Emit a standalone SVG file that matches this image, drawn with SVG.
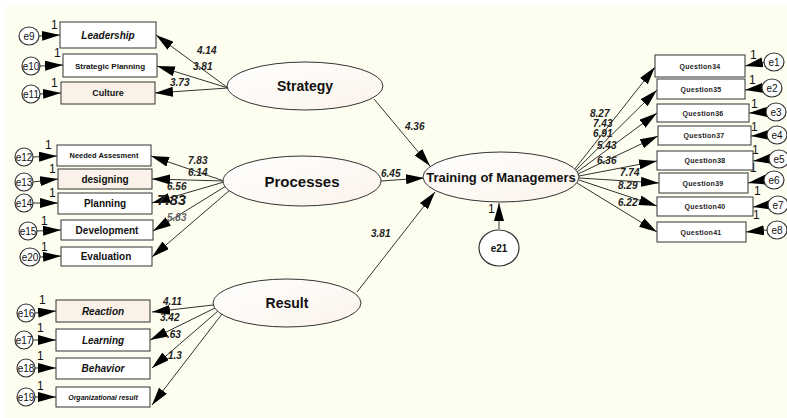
<svg xmlns="http://www.w3.org/2000/svg" width="787" height="418" viewBox="0 0 787 418">
<defs>
<marker id="ah" viewBox="0 0 18 10" refX="18" refY="5" markerWidth="18" markerHeight="10" markerUnits="userSpaceOnUse" orient="auto"><path d="M0,0L18,5L0,10z" fill="#000"/></marker>
<linearGradient id="eg" x1="0" y1="0" x2="1" y2="1"><stop offset="0" stop-color="#ffffff"/><stop offset="1" stop-color="#fbf3ea"/></linearGradient>
<style>
.bx{fill:#fff;stroke:#333;stroke-width:1}
.bxp{fill:#faf2e8;stroke:#333;stroke-width:1}
.el{fill:url(#eg);stroke:#333;stroke-width:1}
.ec{fill:#fff;stroke:#333;stroke-width:1.2}
.ln{stroke:#333;stroke-width:1;fill:none;marker-end:url(#ah)}
.t{font-family:"Liberation Sans",Arial,sans-serif;fill:#111;text-anchor:middle}
.lb{font-family:"Liberation Sans",Arial,sans-serif;font-style:italic;font-weight:bold;font-size:10px;fill:#222}
.one{font-family:"Liberation Sans",Arial,sans-serif;font-size:12px;fill:#111}
.et{font-family:"Liberation Sans",Arial,sans-serif;font-size:10px;fill:#111;text-anchor:middle}
.big{font-family:"Liberation Sans",Arial,sans-serif;font-weight:bold;fill:#111;text-anchor:middle}
.q{font-family:"Liberation Sans",Arial,sans-serif;font-size:7px;font-weight:bold;fill:#222;text-anchor:middle;letter-spacing:0.3px}
</style>
</defs>
<rect x="0" y="0" width="787" height="418" fill="#ffffff"/>
<rect x="5" y="5" width="782" height="413" fill="#fdfdf0"/>

<g id="connectors">
<line class="ln" x1="228" y1="88" x2="156" y2="35"/>
<line class="ln" x1="228" y1="88" x2="157" y2="66"/>
<line class="ln" x1="228" y1="88" x2="155" y2="93"/>
<line class="ln" x1="224" y1="181" x2="151" y2="156"/>
<line class="ln" x1="224" y1="181" x2="152" y2="179"/>
<line class="ln" x1="224" y1="182" x2="152" y2="203"/>
<line class="ln" x1="226" y1="186" x2="153" y2="231"/>
<line class="ln" x1="230" y1="190" x2="152" y2="257"/>
<line class="ln" x1="213" y1="305" x2="152" y2="312"/>
<line class="ln" x1="215" y1="308" x2="150" y2="340"/>
<line class="ln" x1="218" y1="311" x2="152" y2="368"/>
<line class="ln" x1="222" y1="314" x2="152" y2="405"/>
<line class="ln" x1="374" y1="99" x2="430" y2="166"/>
<line class="ln" x1="381" y1="181" x2="424" y2="178"/>
<line class="ln" x1="357" y1="292" x2="435" y2="192"/>
<line class="ln" x1="499" y1="229" x2="499" y2="203"/>
<line class="ln" x1="574" y1="170" x2="655" y2="67"/>
<line class="ln" x1="575" y1="171" x2="657" y2="90"/>
<line class="ln" x1="577" y1="172" x2="657" y2="113"/>
<line class="ln" x1="578" y1="174" x2="658" y2="136"/>
<line class="ln" x1="579" y1="176" x2="657" y2="161"/>
<line class="ln" x1="579" y1="178" x2="659" y2="183"/>
<line class="ln" x1="579" y1="180" x2="657" y2="206"/>
<line class="ln" x1="577" y1="183" x2="657" y2="232"/>
<line class="ln" x1="39" y1="36" x2="60" y2="35"/>
<line class="ln" x1="40" y1="66" x2="63" y2="65"/>
<line class="ln" x1="40" y1="94" x2="61" y2="93"/>
<line class="ln" x1="33" y1="157" x2="57" y2="156"/>
<line class="ln" x1="33" y1="182" x2="58" y2="179"/>
<line class="ln" x1="33" y1="203" x2="58" y2="203"/>
<line class="ln" x1="37" y1="231" x2="61" y2="230"/>
<line class="ln" x1="40" y1="257" x2="61" y2="256"/>
<line class="ln" x1="35" y1="313" x2="56" y2="311"/>
<line class="ln" x1="33" y1="340" x2="56" y2="340"/>
<line class="ln" x1="35" y1="368" x2="56" y2="368"/>
<line class="ln" x1="35" y1="397" x2="56" y2="397"/>
<line class="ln" x1="764" y1="62" x2="745" y2="66"/>
<line class="ln" x1="762" y1="88" x2="745" y2="90"/>
<line class="ln" x1="766" y1="112" x2="749" y2="113"/>
<line class="ln" x1="767" y1="135" x2="751" y2="136"/>
<line class="ln" x1="769" y1="159" x2="753" y2="161"/>
<line class="ln" x1="764" y1="180" x2="748" y2="183"/>
<line class="ln" x1="768" y1="205" x2="753" y2="207"/>
<line class="ln" x1="767" y1="230" x2="746" y2="232"/>
</g>

<g id="labels">
<text class="lb" x="197" y="54">4.14</text>
<text class="lb" x="193" y="70">3.81</text>
<text class="lb" x="170" y="86">3.73</text>
<text class="lb" x="188" y="164">7.83</text>
<text class="lb" x="188" y="176">6.14</text>
<text class="lb" x="167" y="190">6.56</text>
<text class="lb" x="157" y="205" style="font-size:15px">7.83</text>
<text class="lb" x="167" y="221" style="fill:#666">5.83</text>
<text class="lb" x="163" y="305">4.11</text>
<text class="lb" x="160" y="321">3.42</text>
<text class="lb" x="167" y="338">.63</text>
<text class="lb" x="168" y="359">1.3</text>
<text class="lb" x="405" y="130">4.36</text>
<text class="lb" x="381" y="177">6.45</text>
<text class="lb" x="371" y="237">3.81</text>
<text class="lb" x="590" y="117">8.27</text>
<text class="lb" x="593" y="127">7.43</text>
<text class="lb" x="593" y="137">6.91</text>
<text class="lb" x="597" y="149">5.43</text>
<text class="lb" x="597" y="164">6.36</text>
<text class="lb" x="620" y="176">7.74</text>
<text class="lb" x="618" y="189">8.29</text>
<text class="lb" x="618" y="206">6.22</text>
<text class="one" x="51" y="29">1</text>
<text class="one" x="54" y="57">1</text>
<text class="one" x="51" y="87">1</text>
<text class="one" x="45" y="149">1</text>
<text class="one" x="49" y="173">1</text>
<text class="one" x="49" y="197">1</text>
<text class="one" x="41" y="225">1</text>
<text class="one" x="41" y="251">1</text>
<text class="one" x="39" y="304">1</text>
<text class="one" x="37" y="332">1</text>
<text class="one" x="37" y="360">1</text>
<text class="one" x="37" y="390">1</text>
<text class="one" x="488" y="213">1</text>
<text class="one" x="750" y="59">1</text>
<text class="one" x="749" y="84">1</text>
<text class="one" x="751" y="108">1</text>
<text class="one" x="751" y="131">1</text>
<text class="one" x="752" y="154">1</text>
<text class="one" x="750" y="172">1</text>
<text class="one" x="754" y="195">1</text>
<text class="one" x="753" y="219">1</text>
</g>

<g id="Strategy"><ellipse class="el" cx="305" cy="86" rx="78" ry="24"/><text class="big" x="305" y="91" font-size="14">Strategy</text></g>
<g id="Processes"><ellipse class="el" cx="302" cy="181" rx="79" ry="25"/><text class="big" x="302" y="187" font-size="15">Processes</text></g>
<g id="Result"><ellipse class="el" cx="287" cy="303" rx="74" ry="24"/><text class="big" x="287" y="308" font-size="14">Result</text></g>
<g id="Training"><ellipse class="el" cx="501" cy="177" rx="78" ry="25"/><text class="big" x="501" y="182" font-size="13">Training of Managemers</text></g>
<g id="e21"><ellipse class="ec" cx="499" cy="248" rx="20" ry="18"/><text class="et" x="499" y="252" font-weight="bold" font-size="11">e21</text></g>

<g id="Leadership"><rect class="bx" x="60" y="22" width="96" height="26"/><text class="t" x="108" y="39" font-size="10" font-style="italic" font-weight="bold">Leadership</text></g>
<g id="StrategicPlanning"><rect class="bx" x="63" y="54" width="94" height="23"/><text class="t" x="110" y="69" font-size="8" font-weight="bold">Strategic Planning</text></g>
<g id="Culture"><rect class="bxp" x="61" y="82" width="94" height="22"/><text class="t" x="108" y="96" font-size="9" font-weight="bold">Culture</text></g>
<g id="NeededAssesment"><rect class="bx" x="57" y="145" width="94" height="21"/><text class="t" x="104" y="158" font-size="7.5" font-weight="bold">Needed Assesment</text></g>
<g id="designing"><rect class="bxp" x="58" y="169" width="94" height="20"/><text class="t" x="105" y="183" font-size="10" font-weight="bold">designing</text></g>
<g id="Planning"><rect class="bx" x="58" y="193" width="94" height="21"/><text class="t" x="105" y="207" font-size="10" font-weight="bold">Planning</text></g>
<g id="Development"><rect class="bx" x="61" y="220" width="92" height="20"/><text class="t" x="107" y="234" font-size="10" font-weight="bold">Development</text></g>
<g id="Evaluation"><rect class="bx" x="61" y="247" width="91" height="19"/><text class="t" x="106" y="260" font-size="10" font-weight="bold">Evaluation</text></g>
<g id="Reaction"><rect class="bxp" x="56" y="300" width="94" height="22"/><text class="t" x="103" y="315" font-size="10" font-style="italic" font-weight="bold">Reaction</text></g>
<g id="Learning"><rect class="bx" x="56" y="329" width="94" height="22"/><text class="t" x="103" y="344" font-size="10" font-style="italic" font-weight="bold">Learning</text></g>
<g id="Behavior"><rect class="bx" x="56" y="358" width="94" height="21"/><text class="t" x="103" y="372" font-size="10" font-style="italic" font-weight="bold">Behavior</text></g>
<g id="OrganizationalResult"><rect class="bx" x="56" y="387" width="94" height="20"/><text class="t" x="103" y="400" font-size="7" font-style="italic" font-weight="bold">Organizational result</text></g>

<g id="Q34"><rect class="bx" x="655" y="55" width="90" height="22"/><text class="q" x="700" y="69">Question34</text></g>
<g id="Q35"><rect class="bx" x="657" y="79" width="88" height="20"/><text class="q" x="701" y="92">Question35</text></g>
<g id="Q36"><rect class="bx" x="657" y="104" width="92" height="18"/><text class="q" x="703" y="116">Question36</text></g>
<g id="Q37"><rect class="bx" x="658" y="126" width="93" height="19"/><text class="q" x="704" y="138">Question37</text></g>
<g id="Q38"><rect class="bx" x="657" y="151" width="96" height="19"/><text class="q" x="705" y="163">Question38</text></g>
<g id="Q39"><rect class="bx" x="659" y="173" width="89" height="20"/><text class="q" x="703" y="186">Question39</text></g>
<g id="Q40"><rect class="bx" x="657" y="197" width="96" height="19"/><text class="q" x="705" y="209">Question40</text></g>
<g id="Q41"><rect class="bx" x="657" y="222" width="89" height="20"/><text class="q" x="701" y="235">Question41</text></g>

<g id="e9"><ellipse class="ec" cx="29" cy="36" rx="10" ry="9"/><text class="et" x="29" y="40">e9</text></g>
<g id="e10"><ellipse class="ec" cx="31" cy="66" rx="9" ry="9"/><text class="et" x="31" y="70">e10</text></g>
<g id="e11"><ellipse class="ec" cx="31" cy="94" rx="9" ry="9"/><text class="et" x="31" y="98">e11</text></g>
<g id="e12"><ellipse class="ec" cx="24" cy="157" rx="9" ry="9"/><text class="et" x="24" y="161">e12</text></g>
<g id="e13"><ellipse class="ec" cx="24" cy="182" rx="9" ry="9"/><text class="et" x="24" y="186">e13</text></g>
<g id="e14"><ellipse class="ec" cx="24" cy="203" rx="9" ry="9"/><text class="et" x="24" y="207">e14</text></g>
<g id="e15"><ellipse class="ec" cx="28" cy="231" rx="9" ry="9"/><text class="et" x="28" y="235">e15</text></g>
<g id="e20"><ellipse class="ec" cx="30" cy="257" rx="10" ry="9"/><text class="et" x="30" y="261">e20</text></g>
<g id="e16"><ellipse class="ec" cx="26" cy="313" rx="9" ry="9"/><text class="et" x="26" y="317">e16</text></g>
<g id="e17"><ellipse class="ec" cx="24" cy="340" rx="9" ry="9"/><text class="et" x="24" y="344">e17</text></g>
<g id="e18"><ellipse class="ec" cx="26" cy="368" rx="9" ry="9"/><text class="et" x="26" y="372">e18</text></g>
<g id="e19"><ellipse class="ec" cx="26" cy="397" rx="9" ry="9"/><text class="et" x="26" y="401">e19</text></g>

<g id="e1"><ellipse class="ec" cx="774" cy="62" rx="10" ry="9"/><text class="et" x="774" y="66">e1</text></g>
<g id="e2"><ellipse class="ec" cx="772" cy="88" rx="10" ry="9"/><text class="et" x="772" y="92">e2</text></g>
<g id="e3"><ellipse class="ec" cx="776" cy="112" rx="10" ry="9"/><text class="et" x="776" y="116">e3</text></g>
<g id="e4"><ellipse class="ec" cx="777" cy="135" rx="10" ry="9"/><text class="et" x="777" y="139">e4</text></g>
<g id="e5"><ellipse class="ec" cx="779" cy="159" rx="10" ry="9"/><text class="et" x="779" y="163">e5</text></g>
<g id="e6"><ellipse class="ec" cx="774" cy="180" rx="10" ry="9"/><text class="et" x="774" y="184">e6</text></g>
<g id="e7"><ellipse class="ec" cx="778" cy="205" rx="10" ry="9"/><text class="et" x="778" y="209">e7</text></g>
<g id="e8"><ellipse class="ec" cx="777" cy="230" rx="10" ry="9"/><text class="et" x="777" y="234">e8</text></g>
</svg>
